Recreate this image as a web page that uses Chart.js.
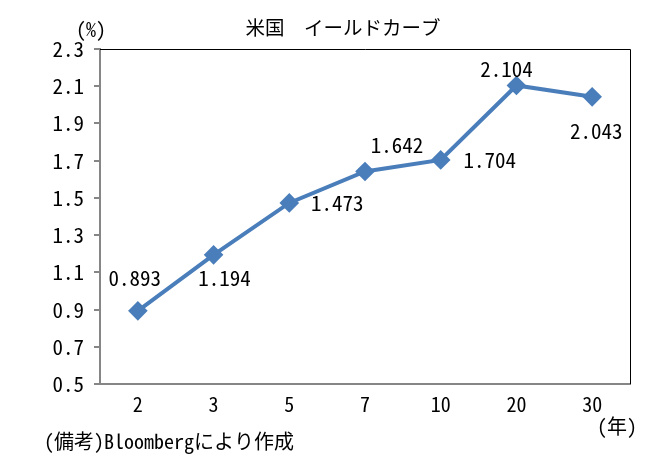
<!DOCTYPE html>
<html>
<head>
<meta charset="utf-8">
<script src="https://cdn.jsdelivr.net/npm/chart.js@4.4.0/dist/chart.umd.min.js"></script>
<style>
  html, body { margin: 0; padding: 0; background: #fff; }
  #wrap { width: 656px; height: 462px; position: relative; }
</style>
</head>
<body>
<div id="wrap"><canvas id="curve"></canvas></div>
<script>
// ---- data ----
const maturities = ['2', '3', '5', '7', '10', '20', '30'];
const yields = [0.893, 1.194, 1.473, 1.642, 1.704, 2.104, 2.043];
const yTicks = [0.5, 0.7, 0.9, 1.1, 1.3, 1.5, 1.7, 1.9, 2.1, 2.3];

// where each value label sits relative to its point (px)
const labelShift = [[-3, -33], [11, 23], [48, 0], [32, -26], [49, 0], [-10, -16], [4, 34]];

const FONT = '"Noto Sans Mono CJK JP", "Noto Sans CJK JP", monospace';
const LINE_BLUE = '#4a7ebb';

// plot frame + value labels + loose texts
const extras = {
    id: 'extras',
    afterDraw(chart) {
        const { ctx, chartArea: a } = chart;
        ctx.save();
        // top and right edge of plot area
        ctx.strokeStyle = '#000';
        ctx.lineWidth = 1;
        ctx.beginPath();
        ctx.moveTo(a.left, a.top + 0.5);
        ctx.lineTo(a.right + 0.5, a.top + 0.5);
        ctx.lineTo(a.right + 0.5, a.bottom);
        ctx.stroke();

        // value labels
        const meta = chart.getDatasetMeta(0);
        ctx.fillStyle = '#000';
        ctx.font = '21px ' + FONT;
        ctx.textAlign = 'center';
        ctx.textBaseline = 'middle';
        meta.data.forEach((pt, i) => {
            const s = labelShift[i];
            ctx.fillText(yields[i].toFixed(3), pt.x + s[0], pt.y + s[1]);
        });

        // title, units, note
        ctx.font = '19.5px ' + FONT;
        ctx.fillText('米国　イールドカーブ', 343, 28);
        ctx.font = '20px ' + FONT;
        ctx.fillText('(%)', 91, 29);
        ctx.fillText('(年)', 617, 426);
        ctx.textAlign = 'left';
        ctx.fillText('(備考)Bloombergにより作成', 44, 441);
        ctx.restore();
    }
};

new Chart(document.getElementById('curve'), {
    type: 'line',
    data: {
        labels: maturities,
        datasets: [{
            data: yields,
            borderColor: LINE_BLUE,
            backgroundColor: LINE_BLUE,
            borderWidth: 4,
            pointStyle: 'rectRot',
            pointRadius: 7,
            pointHoverRadius: 7,
            tension: 0
        }]
    },
    options: {
        responsive: true,
        maintainAspectRatio: false,
        animation: false,
        layout: { padding: { top: 49, right: 26, bottom: 38, left: 0 } },
        plugins: {
            legend: { display: false },
            tooltip: { enabled: false }
        },
        scales: {
            x: {
                offset: true,
                grid: { display: false },
                border: { display: true, color: '#868686', width: 2 },
                ticks: { color: '#000', font: { family: FONT, size: 20 }, padding: 0 },
                afterFit: (scale) => { scale.height = 40; }
            },
            y: {
                min: 0.5,
                max: 2.3,
                afterBuildTicks: (scale) => { scale.ticks = yTicks.map(v => ({ value: v })); },
                grid: { drawOnChartArea: false, drawTicks: true, tickLength: 6, color: '#868686', lineWidth: 2 },
                border: { display: true, color: '#868686', width: 2 },
                ticks: {
                    color: '#000',
                    font: { family: FONT, size: 21 },
                    padding: 10,
                    callback: (v) => Number(v).toFixed(1)
                },
                afterFit: (scale) => { scale.width = 100; }
            }
        }
    },
    plugins: [extras]
});
</script>
</body>
</html>
